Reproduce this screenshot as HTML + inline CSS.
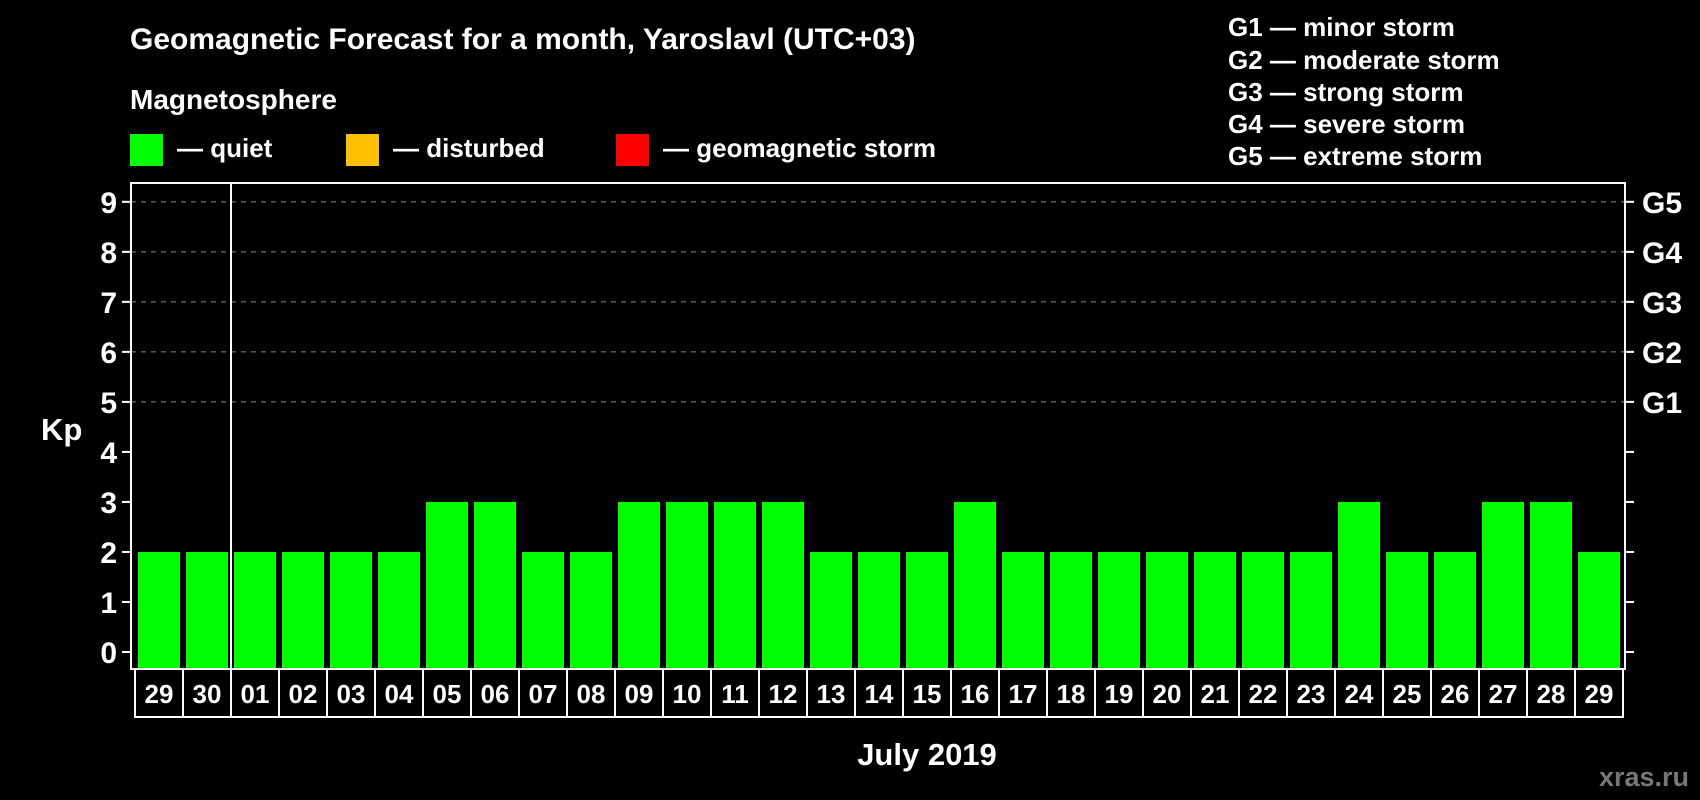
<!DOCTYPE html>
<html><head><meta charset="utf-8"><style>
html,body{margin:0;padding:0;background:#000;}
svg{display:block;font-family:"Liberation Sans",sans-serif;font-weight:bold;}
</style></head><body>
<svg id="chart" width="1700" height="800" viewBox="0 0 1700 800">
<text x="130" y="49" fill="#fff" font-size="30">Geomagnetic Forecast for a month, Yaroslavl (UTC+03)</text>
<text x="130" y="109" fill="#fff" font-size="28">Magnetosphere</text>
<rect x="130" y="134" width="33" height="32" fill="#00ff00"/>
<text x="177" y="157" fill="#fff" font-size="26">— quiet</text>
<rect x="346" y="134" width="33" height="32" fill="#ffc000"/>
<text x="393" y="157" fill="#fff" font-size="26">— disturbed</text>
<rect x="616" y="134" width="33" height="32" fill="#ff0000"/>
<text x="663" y="157" fill="#fff" font-size="26">— geomagnetic storm</text>
<g fill="#fff" font-size="26">
<text x="1228" y="36">G1 — minor storm</text>
<text x="1228" y="69">G2 — moderate storm</text>
<text x="1228" y="101">G3 — strong storm</text>
<text x="1228" y="133">G4 — severe storm</text>
<text x="1228" y="165">G5 — extreme storm</text>
</g>
<text x="41" y="440" fill="#fff" font-size="31">Kp</text>
<text x="927" y="765" fill="#fff" font-size="31" text-anchor="middle">July 2019</text>
<text x="1689" y="786" fill="#777" font-size="27" text-anchor="end">xras.ru</text>
<g id="grid"></g><g id="bars"></g><g id="axes"></g>
<rect x="131" y="183" width="1494" height="486" fill="none" stroke="#fff" stroke-width="2"/>
<line x1="231" y1="183" x2="231" y2="717" stroke="#fff" stroke-width="2"/>
</svg>
<script>
const days=["29","30","01","02","03","04","05","06","07","08","09","10","11","12","13","14","15","16","17","18","19","20","21","22","23","24","25","26","27","28","29"];
const kp=[2,2,2,2,2,2,3,3,2,2,3,3,3,3,2,2,2,3,2,2,2,2,2,2,2,3,2,2,3,3,2];
const yTicks=[0,1,2,3,4,5,6,7,8,9];
const gLabels=["G1","G2","G3","G4","G5"];
const gLevels=[5,6,7,8,9];
const NS="http://www.w3.org/2000/svg";
const y=v=>652-v*50.02;
const x=i=>138+i*48;
function mk(t,a,p){const e=document.createElementNS(NS,t);for(const k in a)e.setAttribute(k,a[k]);p.appendChild(e);return e;}
const grid=document.getElementById('grid'),bars=document.getElementById('bars'),axes=document.getElementById('axes');
gLevels.forEach((v,i)=>{
 const l=mk('line',{x1:131,x2:1625,y1:y(v),y2:y(v),stroke:'#888','stroke-dasharray':'5,5','stroke-width':1},grid);
 
 
 const t=mk('text',{x:1642,y:y(v)+11,fill:'#fff','font-size':30},axes);t.textContent=gLabels[i];
 
 
});
yTicks.forEach(v=>{
 mk('line',{x1:122,x2:131,y1:y(v),y2:y(v),stroke:'#fff','stroke-width':2},axes);
 mk('line',{x1:1625,x2:1634,y1:y(v),y2:y(v),stroke:'#fff','stroke-width':2},axes);
 const t=mk('text',{x:117,y:y(v)+11,fill:'#fff','font-size':30,'text-anchor':'end'},axes);t.textContent=v;
 
 
});
kp.forEach((v,i)=>{
 const c=v>=5?'#ff0000':(v>=4?'#ffc000':'#00ff00');
 const r=mk('rect',{x:x(i),y:y(v),width:42,height:669-y(v),fill:c},bars);
 
 
 const b=mk('rect',{x:135+i*48,y:669,width:48,height:48,fill:'none',stroke:'#fff','stroke-width':2},axes);
 
 
 const t=mk('text',{x:159+i*48,y:703,fill:'#fff','font-size':26,'text-anchor':'middle'},axes);t.textContent=days[i];
 
 
});
</script>
</body></html>
